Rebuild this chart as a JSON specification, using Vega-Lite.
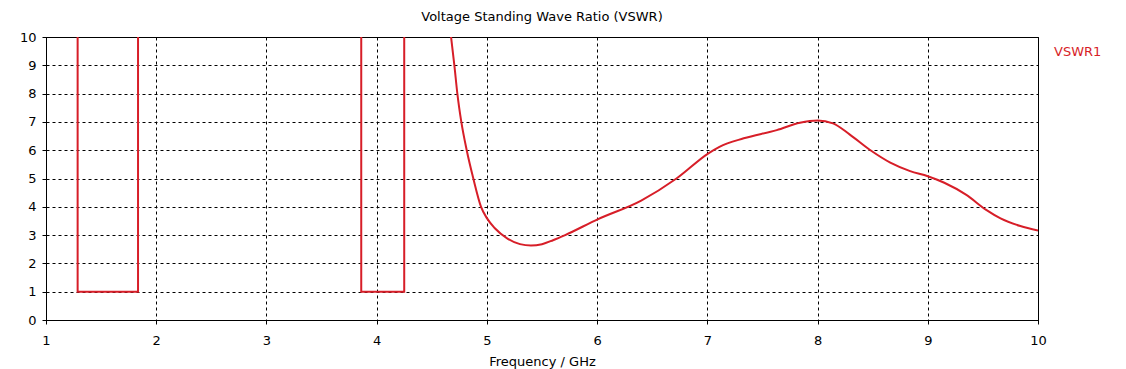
{
  "$schema": "https://vega.github.io/schema/vega-lite/v6.json",
  "width": 992,
  "height": 283,
  "autosize": {"type": "none"},
  "padding": {"left": 46, "top": 37, "right": 88, "bottom": 49},
  "background": "white",
  "title": {
    "text": "Voltage Standing Wave Ratio (VSWR)",
    "font": "DejaVu Sans",
    "fontSize": 13,
    "fontWeight": "normal",
    "color": "#000000",
    "anchor": "middle",
    "offset": 7
  },
  "config": {
    "view": {"stroke": "#000000", "strokeWidth": 1},
    "axis": {
      "labelFont": "DejaVu Sans",
      "labelFontSize": 13,
      "labelColor": "#000000",
      "titleFont": "DejaVu Sans",
      "titleFontSize": 13,
      "titleFontWeight": "normal",
      "titleColor": "#000000",
      "domainColor": "#000000",
      "tickColor": "#000000",
      "tickSize": 4,
      "gridColor": "#000000",
      "gridDash": [3, 3],
      "gridOpacity": 1,
      "gridWidth": 1
    }
  },
  "data": {
    "values": [
      {"i": 1, "seg": "a", "series": "VSWR1", "f": 1.287, "v": 10},
      {"i": 2, "seg": "a", "series": "VSWR1", "f": 1.287, "v": 1},
      {"i": 3, "seg": "a", "series": "VSWR1", "f": 1.835, "v": 1},
      {"i": 4, "seg": "a", "series": "VSWR1", "f": 1.835, "v": 10},
      {"i": 5, "seg": "b", "series": "VSWR1", "f": 3.86, "v": 10},
      {"i": 6, "seg": "b", "series": "VSWR1", "f": 3.86, "v": 1},
      {"i": 7, "seg": "b", "series": "VSWR1", "f": 4.25, "v": 1},
      {"i": 8, "seg": "b", "series": "VSWR1", "f": 4.25, "v": 10},
      {"i": 9, "seg": "c", "series": "VSWR1", "f": 4.675, "v": 10},
      {"i": 10, "seg": "c", "series": "VSWR1", "f": 4.705, "v": 9.0},
      {"i": 11, "seg": "c", "series": "VSWR1", "f": 4.732, "v": 8.0},
      {"i": 12, "seg": "c", "series": "VSWR1", "f": 4.768, "v": 7.0},
      {"i": 13, "seg": "c", "series": "VSWR1", "f": 4.817, "v": 6.0},
      {"i": 14, "seg": "c", "series": "VSWR1", "f": 4.877, "v": 5.0},
      {"i": 15, "seg": "c", "series": "VSWR1", "f": 4.947, "v": 4.0},
      {"i": 16, "seg": "c", "series": "VSWR1", "f": 5.0, "v": 3.6},
      {"i": 17, "seg": "c", "series": "VSWR1", "f": 5.07, "v": 3.25},
      {"i": 18, "seg": "c", "series": "VSWR1", "f": 5.19, "v": 2.87},
      {"i": 19, "seg": "c", "series": "VSWR1", "f": 5.3, "v": 2.68},
      {"i": 20, "seg": "c", "series": "VSWR1", "f": 5.4, "v": 2.63},
      {"i": 21, "seg": "c", "series": "VSWR1", "f": 5.5, "v": 2.68},
      {"i": 22, "seg": "c", "series": "VSWR1", "f": 5.6, "v": 2.82},
      {"i": 23, "seg": "c", "series": "VSWR1", "f": 5.71, "v": 3.0},
      {"i": 24, "seg": "c", "series": "VSWR1", "f": 6.0, "v": 3.55},
      {"i": 25, "seg": "c", "series": "VSWR1", "f": 6.4, "v": 4.22},
      {"i": 26, "seg": "c", "series": "VSWR1", "f": 6.72, "v": 5.0},
      {"i": 27, "seg": "c", "series": "VSWR1", "f": 7.01, "v": 5.89},
      {"i": 28, "seg": "c", "series": "VSWR1", "f": 7.11, "v": 6.12},
      {"i": 29, "seg": "c", "series": "VSWR1", "f": 7.33, "v": 6.42},
      {"i": 30, "seg": "c", "series": "VSWR1", "f": 7.63, "v": 6.71},
      {"i": 31, "seg": "c", "series": "VSWR1", "f": 7.84, "v": 6.97},
      {"i": 32, "seg": "c", "series": "VSWR1", "f": 8.0, "v": 7.05},
      {"i": 33, "seg": "c", "series": "VSWR1", "f": 8.14, "v": 6.95},
      {"i": 34, "seg": "c", "series": "VSWR1", "f": 8.29, "v": 6.56},
      {"i": 35, "seg": "c", "series": "VSWR1", "f": 8.49, "v": 5.97},
      {"i": 36, "seg": "c", "series": "VSWR1", "f": 8.66, "v": 5.56},
      {"i": 37, "seg": "c", "series": "VSWR1", "f": 8.84, "v": 5.26},
      {"i": 38, "seg": "c", "series": "VSWR1", "f": 9.0, "v": 5.08},
      {"i": 39, "seg": "c", "series": "VSWR1", "f": 9.15, "v": 4.85},
      {"i": 40, "seg": "c", "series": "VSWR1", "f": 9.35, "v": 4.42},
      {"i": 41, "seg": "c", "series": "VSWR1", "f": 9.53, "v": 3.89},
      {"i": 42, "seg": "c", "series": "VSWR1", "f": 9.66, "v": 3.59},
      {"i": 43, "seg": "c", "series": "VSWR1", "f": 9.84, "v": 3.32},
      {"i": 44, "seg": "c", "series": "VSWR1", "f": 10.0, "v": 3.16}
    ]
  },
  "mark": {"type": "line", "strokeWidth": 2, "interpolate": "monotone", "clip": true},
  "encoding": {
    "x": {
      "field": "f",
      "type": "quantitative",
      "scale": {"domain": [1, 10], "nice": false, "zero": false},
      "axis": {
        "title": "Frequency / GHz",
        "values": [1, 2, 3, 4, 5, 6, 7, 8, 9, 10],
        "format": "d",
        "labelPadding": 10,
        "titlePadding": 8,
        "labelFlush": false,
        "labelOverlap": false
      }
    },
    "y": {
      "field": "v",
      "type": "quantitative",
      "scale": {"domain": [0, 10], "nice": false},
      "axis": {
        "title": null,
        "values": [0, 1, 2, 3, 4, 5, 6, 7, 8, 9, 10],
        "format": "d",
        "labelPadding": 6,
        "labelFlush": false,
        "labelOverlap": false
      }
    },
    "detail": {"field": "seg"},
    "order": {"field": "i", "type": "quantitative"},
    "color": {
      "field": "series",
      "type": "nominal",
      "scale": {"range": ["#d71e28"]},
      "legend": {
        "title": null,
        "orient": "none",
        "legendX": 995,
        "legendY": 8,
        "symbolSize": 0,
        "symbolOpacity": 0,
        "symbolStrokeWidth": 0,
        "labelOffset": 0,
        "labelFont": "DejaVu Sans",
        "labelFontSize": 13,
        "labelColor": "#d71e28"
      }
    }
  }
}
